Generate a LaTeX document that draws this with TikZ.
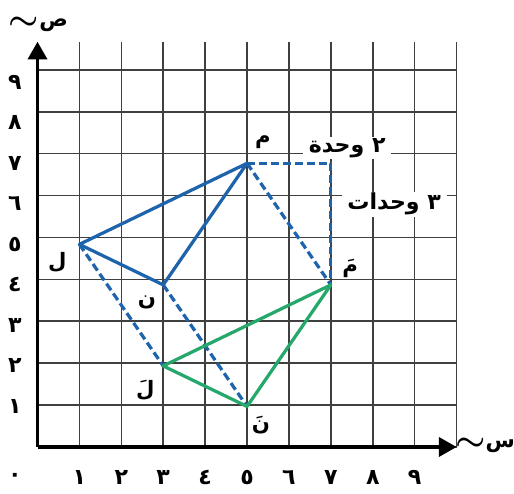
\documentclass[tikz,border=0pt]{standalone}
\usepackage{fontspec}
\newfontfamily\arabicfont[Script=Arabic]{DejaVu Sans}
\usetikzlibrary{arrows.meta}
\TeXXeTstate=1

\definecolor{triblue}{RGB}{30,100,172}
\definecolor{trigreen}{RGB}{38,168,108}

\newcommand{\swash}{\raisebox{-2pt}{\scalebox{1.6}[1.5]{\boldmath\(\sim\)}}}

\begin{document}
\begin{tikzpicture}[
    x=1cm,
    y=0.967cm,
    gridline/.style={draw=black!75, line width=1.1pt},
    axis/.style={
        line width=2.2pt,
        -{Triangle[length=12pt, width=13pt]}
    },
    original/.style={draw=triblue, line width=2.2pt, line join=round},
    translated/.style={draw=trigreen, line width=2.2pt, line join=round},
    slide/.style={
        draw=triblue,
        line width=2.2pt,
        dash pattern=on 5.4pt off 2.7pt
    },
    digit/.style={
        font=\arabicfont\bfseries\fontsize{15}{17}\selectfont,
        inner sep=1pt
    },
    point/.style={font=\arabicfont\bfseries\Large, inner sep=1pt},
    units/.style={
        font=\arabicfont\bfseries\fontsize{15}{17}\selectfont,
        fill=white,
        inner xsep=4pt,
        inner ysep=1pt
    },
    axislabel/.style={font=\arabicfont\bfseries\Large, inner sep=0pt}
]

    \useasboundingbox (-0.895, -1.143) rectangle (11.37, 11.03);

    \draw[gridline] (0, 0) grid (10, 10);

    \node[units] (across) at (7.39, 7.37) {\beginR ٢ وحدة\endR};
    \node[units] (down) at (8.51, 5.99) {\beginR ٣ وحدات\endR};

    \coordinate (O) at (0, 0);
    \coordinate (xend) at (10, 0);
    \coordinate (yend) at (0, 10);

    \draw[axis] (O) -- (xend);
    \draw[axis] (O) -- (yend);

    \node[axislabel] (ylabel) at (0.02, 10.42) {\swash ص};
    \node[axislabel] (xlabel) at (10.68, 0.05) {\swash س};

    \node[digit] (y1) at (-0.54, 1) {١};
    \node[digit] (y2) at (-0.54, 2) {٢};
    \node[digit] (y3) at (-0.54, 3) {٣};
    \node[digit] (y4) at (-0.54, 4) {٤};
    \node[digit] (y5) at (-0.54, 5) {٥};
    \node[digit] (y6) at (-0.54, 6) {٦};
    \node[digit] (y7) at (-0.54, 7) {٧};
    \node[digit] (y8) at (-0.54, 8) {٨};
    \node[digit] (y9) at (-0.54, 9) {٩};

    \node[digit] (x0) at (-0.54, -0.75) {٠};
    \node[digit] (x1) at (1, -0.75) {١};
    \node[digit] (x2) at (2, -0.75) {٢};
    \node[digit] (x3) at (3, -0.75) {٣};
    \node[digit] (x4) at (4, -0.75) {٤};
    \node[digit] (x5) at (5, -0.75) {٥};
    \node[digit] (x6) at (6, -0.75) {٦};
    \node[digit] (x7) at (7, -0.75) {٧};
    \node[digit] (x8) at (8, -0.75) {٨};
    \node[digit] (x9) at (9, -0.75) {٩};

    \coordinate (L) at (1, 5);
    \coordinate (N) at (3, 4);
    \coordinate (M) at (5, 7);
    \coordinate (L2) at (3, 2);
    \coordinate (N2) at (5, 1);
    \coordinate (M2) at (7, 4);
    \coordinate (corner) at (7, 7);

    \draw[slide] (L) -- (L2);
    \draw[slide] (N) -- (N2);
    \draw[slide] (M) -- (M2);
    \draw[slide] (M) -- (corner) -- (M2);

    \draw[original] (L) -- (N) -- (M) -- cycle;
    \draw[translated] (L2) -- (N2) -- (M2) -- cycle;

    \node[point] (labL) at (0.47, 4.56) {ل};
    \node[point] (labN) at (2.61, 3.57) {ن};
    \node[point] (labM) at (5.38, 7.52) {م};
    \node[point] (labL2) at (2.57, 1.40) {لَ};
    \node[point] (labN2) at (5.33, 0.54) {نَ};
    \node[point] (labM2) at (7.46, 4.41) {مَ};

\end{tikzpicture}
\end{document}
